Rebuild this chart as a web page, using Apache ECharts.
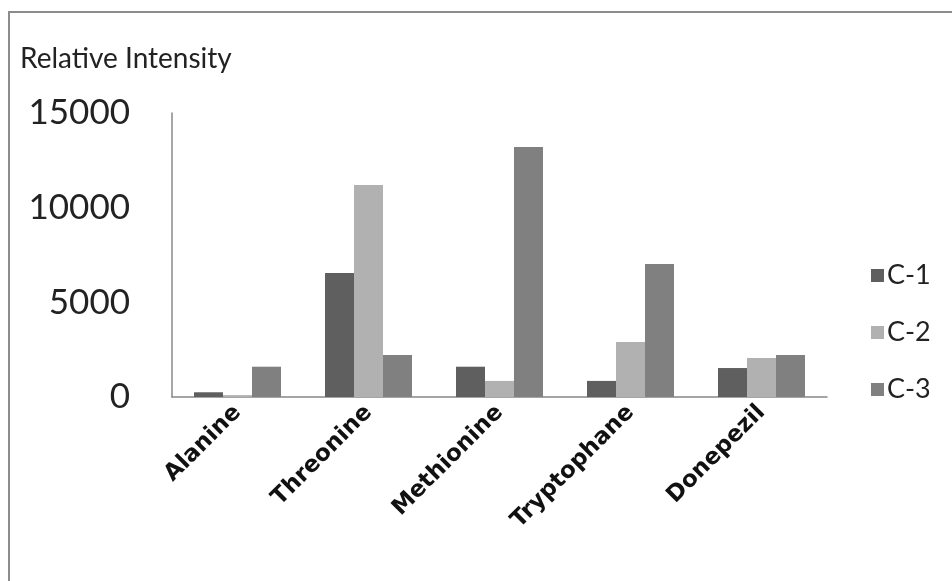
<!DOCTYPE html>
<html>
<head>
<meta charset="utf-8">
<script src="https://cdn.jsdelivr.net/npm/echarts@6/dist/echarts.min.js"></script>
<style>
html,body{margin:0;padding:0;background:#fff;}
#chart{width:952px;height:581px;}
</style>
</head>
<body>
<div id="chart"></div>
<script>
var categories = ['Alanine', 'Threonine', 'Methionine', 'Tryptophane', 'Donepezil'];
var seriesNames = ['C-1', 'C-2', 'C-3'];
var c1Values = [250, 6550, 1600, 850, 1530];
var c2Values = [100, 11200, 850, 2900, 2060];
var c3Values = [1600, 2220, 13200, 7020, 2220];
var yTicks = [0, 5000, 10000, 15000];
var yTitle = 'Relative Intensity';

var colors = ['#5f5f5f', '#b1b1b1', '#808080'];
var allValues = [c1Values, c2Values, c3Values];

var chart = echarts.init(document.getElementById('chart'), null, {renderer: 'canvas'});
var series = seriesNames.map(function (n, i) {
  return {
    name: n,
    type: 'bar',
    data: allValues[i],
    barGap: '0%',
    barCategoryGap: '33.6%',
    itemStyle: {color: colors[i]}
  };
});

chart.setOption({
  animation: false,
  backgroundColor: '#fff',
  color: colors,
  graphic: [{
    type: 'rect',
    shape: {x: 9, y: 12, width: 960, height: 600},
    style: {fill: null, stroke: '#8c8c8c', lineWidth: 2},
    silent: true
  }],
  title: {
    text: yTitle,
    left: 15,
    top: 40,
    textStyle: {fontFamily: 'Lato', fontSize: 28, fontWeight: 'normal', color: '#222'}
  },
  legend: {
    orient: 'vertical',
    left: 866,
    top: 257,
    itemWidth: 13,
    itemHeight: 13,
    itemGap: 30,
    icon: 'rect',
    data: seriesNames,
    textStyle: {fontFamily: 'Lato', fontSize: 27, color: '#222', padding: [0, 0, 0, -2]}
  },
  grid: {left: 172, right: 125, top: 113, bottom: 184, containLabel: false},
  xAxis: {
    type: 'category',
    data: categories,
    axisLine: {show: true, lineStyle: {color: '#888', width: 1.5}},
    axisTick: {show: false},
    axisLabel: {
      rotate: 45,
      margin: 12,
      interval: 0,
      fontFamily: 'DejaVu Sans',
      fontWeight: 'bold',
      fontSize: 23,
      color: '#111'
    }
  },
  yAxis: {
    type: 'value',
    min: 0,
    max: 15000,
    interval: 5000,
    axisLine: {show: true, lineStyle: {color: '#888', width: 1.5}},
    axisTick: {show: false},
    splitLine: {show: false},
    axisLabel: {
      margin: 42,
      fontFamily: 'Lato',
      fontSize: 35,
      color: '#222',
      customValues: yTicks,
      formatter: function (v) { return String(v); }
    }
  },
  series: series
});
</script>
</body>
</html>
